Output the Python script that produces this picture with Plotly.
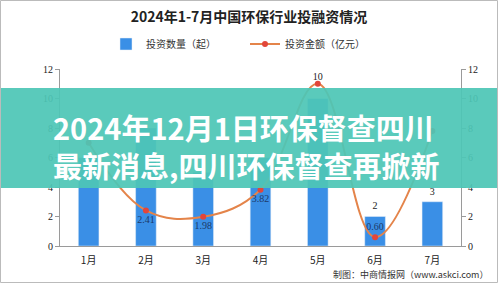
import plotly.graph_objects as go

months = ["1月", "2月", "3月", "4月", "5月", "6月", "7月"]
deal_counts = [6, 8, 5, 6, 10, 2, 3]            # 投资数量（起）
deal_amounts = [7.0, 2.41, 1.98, 3.82, 11.0, 0.60, 7.8]  # 投资金额（亿元）
# Labels that sit behind the headline banner are left blank
count_labels = ["", "", "", "", "10", "2", "3"]
amount_labels = ["", "2.41", "1.98", "3.82", "", "0.60", ""]
amount_label_pos = ["bottom center", "bottom center", "bottom center", "bottom center",
                    "top center", "top center", "top center"]
count_label_pad = [6, 6, 6, 6, 24, 6, 6]
y_ticks = [0, 2, 4, 6, 8, 10, 12]
headline = ["2024年12月1日环保督查四川", "最新消息,四川环保督查再掀新"]

W, H = 498, 283
L, R, T, B = 60, 37, 69, 37
pw, ph = W - L - R, H - T - B

def px(x):
    return (x - L) / pw

def py(y):
    return (H - B - y) / ph

serif = "Liberation Serif, Noto Sans CJK SC"
cjk = "Noto Sans CJK SC"

fig = go.Figure()
fig.add_trace(go.Bar(
    x=months, y=deal_counts, name="投资数量（起）",
    marker_color="#3a8fe6", width=0.36,
))
# Count labels above the bars (invisible markers keep the text clear of the line)
fig.add_trace(go.Scatter(
    x=months, y=deal_counts, mode="markers+text", showlegend=False,
    marker=dict(size=count_label_pad, opacity=0),
    text=count_labels, textposition="top center",
    textfont=dict(family=serif, size=10, color="#222"),
    hoverinfo="skip", cliponaxis=False,
))
fig.add_trace(go.Scatter(
    x=months, y=deal_amounts, name="投资金额（亿元）", yaxis="y2",
    mode="lines+markers+text",
    line=dict(color="#e4844a", width=2, shape="spline", smoothing=1.1),
    marker=dict(color="#e2463a", size=6),
    text=amount_labels, textposition=amount_label_pos,
    textfont=dict(family=serif, size=10, color="#1d3a6a"),
    cliponaxis=False,
))

axis_common = dict(
    range=[0, 12], tickvals=y_ticks, showgrid=False, zeroline=False,
    showline=True, linecolor="#9a9a9a", linewidth=1,
    ticks="outside", ticklen=4, tickcolor="#9a9a9a",
    tickfont=dict(family=serif, size=10, color="#222"),
)

fig.update_layout(
    width=W, height=H,
    margin=dict(l=L, r=R, t=T, b=B),
    paper_bgcolor="white", plot_bgcolor="white",
    showlegend=True,
    legend=dict(orientation="h", x=px(106), xanchor="left", y=py(44), yanchor="middle",
                entrywidth=94, entrywidthmode="pixels",
                font=dict(family=cjk, size=10, color="#333"),
                bgcolor="rgba(0,0,0,0)"),
    title=dict(text="<b>2024年1-7月中国环保行业投融资情况</b>",
               x=0.5, xanchor="center", xref="container",
               y=1 - 17 / H, yanchor="middle", yref="container",
               font=dict(family=cjk, size=14, color="#222")),
    xaxis=dict(showgrid=False, showline=True, linecolor="#9a9a9a",
               ticks="outside", ticklen=5, tickcolor="rgba(0,0,0,0)",
               tickfont=dict(family=cjk, size=10, color="#222")),
    yaxis=dict(**axis_common, side="left"),
    yaxis2=dict(**axis_common, side="right", overlaying="y"),
    bargap=0.64,
)

# Headline banner across the middle of the figure
fig.add_shape(type="rect", xref="paper", yref="paper",
              x0=px(0), x1=px(W), y0=py(188), y1=py(88),
              fillcolor="rgba(78,198,182,0.93)", line_width=0, layer="above")
fig.add_annotation(xref="paper", yref="paper", x=px(51), y=py(145.5),
                   xanchor="left", yanchor="middle", align="left", showarrow=False,
                   text="<br>".join(f"<b>{t}</b>" for t in headline),
                   font=dict(family=cjk, size=29, color="white"))

# Source note
fig.add_annotation(xref="paper", yref="paper", x=px(490), y=py(274),
                   xanchor="right", yanchor="middle", showarrow=False,
                   text="制图：中商情报网（www.askci.com）",
                   font=dict(family=cjk, size=9, color="#333"))

# Thin frame around the figure
fig.add_shape(type="rect", xref="paper", yref="paper",
              x0=px(0.5), x1=px(W - 0.5), y0=py(H - 0.5), y1=py(0.5),
              line=dict(color="#bbbbbb", width=1), layer="above")

fig.write_html("out.html")
